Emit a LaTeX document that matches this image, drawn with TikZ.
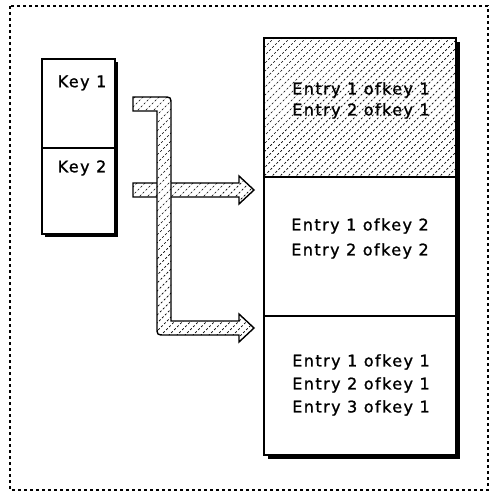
\documentclass[tikz,border=0pt]{standalone}
\usepackage{fontspec}
\setmainfont{DejaVu Sans}[LetterSpace=9, FakeBold=1.2]
\begin{document}
\begin{tikzpicture}[x=1pt,y=-1pt,
  frame/.style={line width=1.1pt, dash pattern=on 3pt off 3pt},
  boxline/.style={draw=black, line width=1.4pt},
  shadow/.style={fill=black},
  hatchline/.style={black, line width=0.7pt, dash pattern=on 2.2pt off 2pt},
  arrowline/.style={draw=black, line width=1.4pt},
  lbl/.style={font=\fontsize{16}{18}\selectfont, inner sep=0pt, text=black}
]
\useasboundingbox (0,0) rectangle (490,494);
\newcommand\myhatch[1]{\begin{scope}\clip #1;
  \foreach \i in {-560,-552,...,500} {\draw[hatchline] (\i,520) -- ++(560,-560);}
  \end{scope}}

% outer dotted frame
\draw[frame] (10,6) rectangle (488,490);

% key box
\fill[shadow] (45,62) rectangle (118,237);
\draw[boxline, fill=white] (42,59) rectangle (115,234);
\draw[boxline] (42,148) -- (115,148);
\node[lbl] (key1) at (82,83) {Key 1};
\node[lbl] (key2) at (82,168) {Key 2};

% entries box
\fill[shadow] (268,42) rectangle (460,459);
\fill[white] (264,38) rectangle (456,455);
\myhatch{(264,38) rectangle (456,177)}
\draw[boxline] (264,38) rectangle (456,455);
\draw[boxline] (264,177) -- (456,177);
\draw[boxline] (264,316) -- (456,316);

\node[lbl] (e11a) at (361,90) {Entry 1 ofkey 1};
\node[lbl] (e21a) at (361,111) {Entry 2 ofkey 1};
\node[lbl] (e12) at (360,226) {Entry 1 ofkey 2};
\node[lbl] (e22) at (360,251) {Entry 2 ofkey 2};
\node[lbl] (e11) at (361,362) {Entry 1 ofkey 1};
\node[lbl] (e21) at (361,385) {Entry 2 ofkey 1};
\node[lbl] (e31) at (361,408) {Entry 3 ofkey 1};

% middle arrow (key 2 -> second section)
\fill[white] (133,183) -- (239,183) -- (239,176) -- (254,190) -- (239,204) -- (239,197) -- (133,197) -- cycle;
\myhatch{(133,183) -- (239,183) -- (239,176) -- (254,190) -- (239,204) -- (239,197) -- (133,197) -- cycle}
\draw[arrowline, line join=miter] (133,183) -- (239,183) -- (239,176) -- (254,190) -- (239,204) -- (239,197) -- (133,197) -- cycle;

% L-shaped arrow (key 1 -> third section)
\fill[white] (133,97) -- (163,97) .. controls (171,97) .. (171,105) -- (171,321) -- (239,321) -- (239,314) -- (254,328) -- (239,342) -- (239,335) -- (165,335) .. controls (157,335) .. (157,327) -- (157,111) -- (133,111) -- cycle;
\myhatch{(133,97) -- (163,97) .. controls (171,97) .. (171,105) -- (171,321) -- (239,321) -- (239,314) -- (254,328) -- (239,342) -- (239,335) -- (165,335) .. controls (157,335) .. (157,327) -- (157,111) -- (133,111) -- cycle}
\draw[arrowline] (133,97) -- (163,97) .. controls (171,97) .. (171,105) -- (171,321) -- (239,321) -- (239,314) -- (254,328) -- (239,342) -- (239,335) -- (165,335) .. controls (157,335) .. (157,327) -- (157,111) -- (133,111) -- cycle;
\end{tikzpicture}
\end{document}
